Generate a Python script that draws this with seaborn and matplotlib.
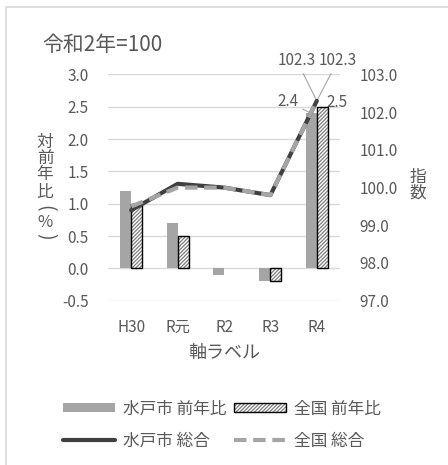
import numpy as np
import pandas as pd
import matplotlib
matplotlib.use("Agg")
import matplotlib.pyplot as plt
import seaborn as sns
from matplotlib.patches import Patch, Rectangle
from matplotlib.lines import Line2D

# ---- data ----
categories = ["H30", "R元", "R2", "R3", "R4"]
mito_yoy = [1.2, 0.7, -0.1, -0.2, 2.4]
national_yoy = [1.0, 0.5, 0.0, -0.2, 2.5]
mito_index = [99.4, 100.1, 100.0, 99.8, 102.3]
national_index = [99.5, 100.0, 100.0, 99.8, 102.3]
series_names = ["水戸市 前年比", "全国 前年比", "水戸市 総合", "全国 総合"]
left_ticks = [-0.5, 0.0, 0.5, 1.0, 1.5, 2.0, 2.5, 3.0]
right_ticks = [97.0, 98.0, 99.0, 100.0, 101.0, 102.0, 103.0]

sns.set_theme(style="white")
plt.rcParams["font.family"] = ["Noto Sans CJK JP", "DejaVu Sans"]
plt.rcParams["hatch.linewidth"] = 0.9

TXT = "#595959"
GRID = "#D9D9D9"
BAR_GRAY = "#A5A5A5"
HATCH_GRAY = "#7F7F7F"
DARK = "#404040"
HATCH = "/////////"

bars_df = pd.DataFrame({
    "cat": categories * 2,
    "val": mito_yoy + national_yoy,
    "series": [series_names[0]] * 5 + [series_names[1]] * 5,
})
lines_df = pd.DataFrame({
    "cat": categories * 2,
    "val": mito_index + national_index,
    "series": [series_names[2]] * 5 + [series_names[3]] * 5,
})

fig = plt.figure(figsize=(4.48, 4.65), dpi=100)
ax = fig.add_axes([108 / 448, 1 - 300.7 / 465, 232 / 448, (300.7 - 74.5) / 465])

sns.barplot(data=bars_df, x="cat", y="val", hue="series", order=categories,
            hue_order=series_names[:2], palette=[BAR_GRAY, "white"],
            width=0.474, gap=0, ax=ax, legend=False, saturation=1,
            errorbar=None, zorder=3)

# style national bars: hatched + black outline
for p in ax.containers[1]:
    p.set_hatch(HATCH)
    p.set_edgecolor(HATCH_GRAY)
    p.set_linewidth(0)
    if p.get_height() != 0:
        ax.add_patch(Rectangle(p.get_xy(), p.get_width(), p.get_height(),
                               fill=False, edgecolor="black", lw=1.0, zorder=4))
for p in ax.containers[0]:
    p.set_edgecolor("none")
    p.set_linewidth(0)

ax.set_ylim(-0.5, 3.0)
ax.set_yticks(left_ticks)
ax.set_yticklabels([f"{t:.1f}" for t in left_ticks])
ax.set_xlim(-0.5, 4.5)
ax.grid(axis="y", color=GRID, lw=1, zorder=0)
ax.set_axisbelow(True)
for s in ax.spines.values():
    s.set_visible(False)
ax.tick_params(axis="both", length=0, colors=TXT, labelsize=11)
ax.tick_params(axis="y", pad=14)
ax.tick_params(axis="x", pad=13)
ax.set_xlabel("")
ax.set_ylabel("")

ax2 = ax.twinx()
sns.lineplot(data=lines_df[lines_df.series == series_names[2]], x="cat", y="val",
             sort=False, color=DARK, lw=3, ax=ax2, legend=False, zorder=5)
sns.lineplot(data=lines_df[lines_df.series == series_names[3]], x="cat", y="val",
             sort=False, color=BAR_GRAY, lw=3, ax=ax2, legend=False, zorder=6)
ax2.lines[1].set_dashes([3, 1.6])
ax2.set_ylim(97.0, 103.0)
ax2.set_yticks(right_ticks)
ax2.set_yticklabels([f"{t:.1f}" for t in right_ticks])
ax2.set_xlim(-0.5, 4.5)
for s in ax2.spines.values():
    s.set_visible(False)
ax2.tick_params(axis="y", length=0, colors=TXT, labelsize=11, pad=14)
ax2.set_xlabel("")
ax2.set_ylabel("")
ax2.grid(False)

# ---- data labels on R4 ----
i = len(categories) - 1
w = 0.237
lc = "#A6A6A6"
ax.annotate(f"{mito_yoy[i]:.1f}", xy=(i - w / 2, mito_yoy[i]), xytext=(-17, 8.4),
            textcoords="offset points", ha="center", va="center", fontsize=11, color=TXT,
            arrowprops=dict(arrowstyle="-", color=lc, lw=0.8, shrinkA=1, shrinkB=0),
            annotation_clip=False)
ax.annotate(f"{national_yoy[i]:.1f}", xy=(i + w / 2, national_yoy[i]), xytext=(10.8, 3),
            textcoords="offset points", ha="center", va="center", fontsize=11, color=TXT,
            annotation_clip=False)
ax2.annotate(f"{mito_index[i]:.1f}", xy=(i, mito_index[i]), xytext=(-14.4, 29),
             textcoords="offset points", ha="center", va="center", fontsize=11, color=TXT,
             arrowprops=dict(arrowstyle="-", color=lc, lw=0.8, shrinkA=1, shrinkB=0),
             annotation_clip=False)
ax2.annotate(f"{national_index[i]:.1f}", xy=(i, national_index[i]), xytext=(15.1, 29),
             textcoords="offset points", ha="center", va="center", fontsize=11, color=TXT,
             arrowprops=dict(arrowstyle="-", color=lc, lw=0.8, shrinkA=1, shrinkB=0),
             annotation_clip=False)

# ---- titles / axis labels ----
fig.text(42 / 448, 1 - 45 / 465, "令和2年=100", fontsize=15, color=TXT, ha="left", va="center")

# vertical y label: 対前年比（%）
ylab = [("対", 142, 0, 12), ("前", 158, 0, 12), ("年", 175, 0, 12), ("比", 193, 0, 12),
        ("(", 208, -90, 14), ("%", 222, 0, 12), (")", 236, -90, 14)]
for ch, yy, rot, fs in ylab:
    fig.text(45 / 448, 1 - yy / 465, ch, fontsize=fs, color=TXT, ha="center",
             va="center", rotation=rot)
for ch, yy in [("指", 177), ("数", 193)]:
    fig.text(418 / 448, 1 - yy / 465, ch, fontsize=12, color=TXT, ha="center", va="center")

fig.text(224 / 448, 1 - 353 / 465, "軸ラベル", fontsize=13, color=TXT, ha="center", va="center")

# ---- legend ----
h_mito_bar = Patch(facecolor=BAR_GRAY, edgecolor="none")
h_nat_bar = (Patch(facecolor="white", edgecolor=HATCH_GRAY, hatch=HATCH, lw=0),
             Patch(facecolor="none", edgecolor="black", lw=1.0))
h_mito_line = Line2D([], [], color=DARK, lw=3)
h_nat_line = Line2D([], [], color=BAR_GRAY, lw=3, dashes=[3, 1.6])
leg = fig.legend([h_mito_bar, h_mito_line, h_nat_bar, h_nat_line],
                 [series_names[0], series_names[2], series_names[1], series_names[3]],
                 ncol=2, loc="center", bbox_to_anchor=(222 / 448, 1 - 425 / 465),
                 frameon=False, fontsize=12, handlelength=3.1, handleheight=0.5,
                 handletextpad=0.45, columnspacing=0.5, labelspacing=0.9)
for t in leg.get_texts():
    t.set_color(TXT)

# chart-area border
fig.add_artist(Rectangle((6 / 448, -0.05), 1.0, 1 - 7 / 465 + 0.05, transform=fig.transFigure,
                         fill=False, edgecolor=GRID, lw=1.2))

fig.savefig("out.png", dpi=100)
